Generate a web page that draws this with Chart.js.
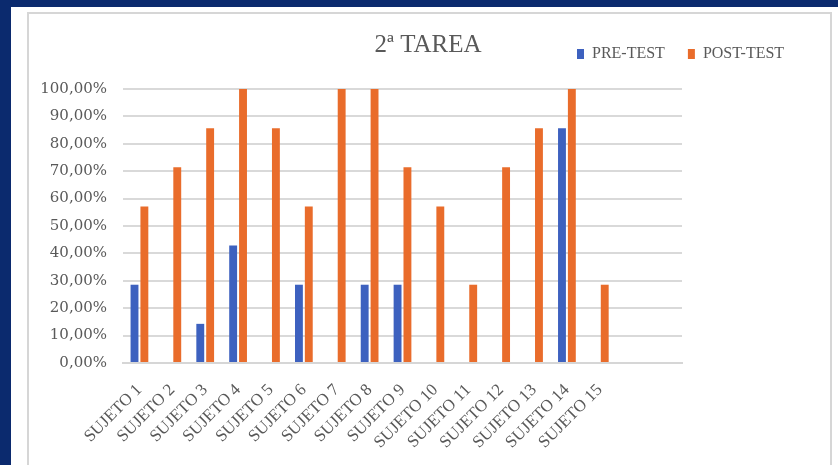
<!DOCTYPE html>
<html>
<head>
<meta charset="utf-8">
<script src="https://cdn.jsdelivr.net/npm/chart.js@4"></script>
<style>
  html, body { margin: 0; padding: 0; }
  body { width: 838px; height: 465px; background: #0b2a6e; position: relative; overflow: hidden; }
  #sheet { position: absolute; left: 11px; top: 7px; right: 0; bottom: 0; background: #fff; }
  #frame { position: absolute; left: 27px; top: 12px; width: 805px; height: 470px; border: 2px solid #d6d6d6; box-sizing: border-box; }
  #wrap { position: absolute; left: 0; top: 0; width: 838px; height: 465px; }
</style>
</head>
<body>
<div id="sheet"></div>
<div id="frame"></div>
<div id="wrap"><canvas id="chart"></canvas></div>
<script>
// data (scores out of 7)
const subjects = ['SUJETO 1','SUJETO 2','SUJETO 3','SUJETO 4','SUJETO 5','SUJETO 6','SUJETO 7','SUJETO 8',
                  'SUJETO 9','SUJETO 10','SUJETO 11','SUJETO 12','SUJETO 13','SUJETO 14','SUJETO 15','',''];
const preTest  = [0.2857,0,0.1429,0.4286,0,0.2857,0,0.2857,0.2857,0,0,0,0,0.8571,0,null,null];
const postTest = [0.5714,0.7143,0.8571,1,0.8571,0.5714,1,1,0.7143,0.5714,0.2857,0.7143,0.8571,1,0.2857,null,null];
const yTicks = [0,0.1,0.2,0.3,0.4,0.5,0.6,0.7,0.8,0.9,1];

const grey = '#595959';

// put title and legend on the same row, like the Excel original
const headerPlugin = {
    id: 'header',
    afterLayout(chart){
        const t = chart.titleBlock, l = chart.legend;
        const dx = 428 - (t.left + t.right)/2;
        t.left += dx; t.right += dx;
        const h = l.bottom - l.top;
        l.top = 54 - 23 - 8; l.bottom = l.top + h;
        l.left = 554; l.right = 838;
    }
};

new Chart(document.getElementById('chart'), {
    type: 'bar',
    data: {
        labels: subjects,
        datasets: [
            { label: 'PRE-TEST', data: preTest, backgroundColor: '#3d61bf' },
            { label: 'POST-TEST', data: postTest, backgroundColor: '#e96c2b' }
        ]
    },
    options: {
        responsive: true,
        maintainAspectRatio: false,
        animation: false,
        datasets: { bar: { categoryPercentage: 0.6, barPercentage: 0.8 } },
        layout: { padding: { left: 0, right: 156, top: 0, bottom: 0 } },
        plugins: {
            title: {
                display: true, text: '2ª TAREA', color: grey,
                font: { family: 'Liberation Serif', size: 25, weight: 'normal' },
                padding: { top: 30, bottom: -20 }
            },
            legend: {
                position: 'top', align: 'start',
                labels: {
                    color: grey, boxWidth: 7, boxHeight: 10, padding: 23,
                    font: { family: 'Liberation Serif', size: 16 }
                }
            },
            tooltip: { enabled: false }
        },
        scales: {
            x: {
                grid: { display: false, drawTicks: false },
                border: { color: '#d6d6d6', width: 2 },
                ticks: {
                    autoSkip: false, minRotation: 45, maxRotation: 45, padding: 17,
                    color: grey, font: { family: 'Liberation Serif', size: 17 }
                },
                afterFit(s){ s.height = 102; }
            },
            y: {
                min: 0, max: 1,
                afterBuildTicks(s){ s.ticks = yTicks.map(v => ({ value: v })); },
                grid: { color: '#d9d9d9', lineWidth: 2, drawTicks: false },
                border: { display: false },
                ticks: {
                    padding: 16, color: grey,
                    font: { family: 'DejaVu Serif', size: 15 },
                    callback: v => (v*100).toFixed(2).replace('.', ',') + '%'
                },
                afterFit(s){ s.width = 123; }
            }
        }
    },
    plugins: [headerPlugin]
});
</script>
</body>
</html>
